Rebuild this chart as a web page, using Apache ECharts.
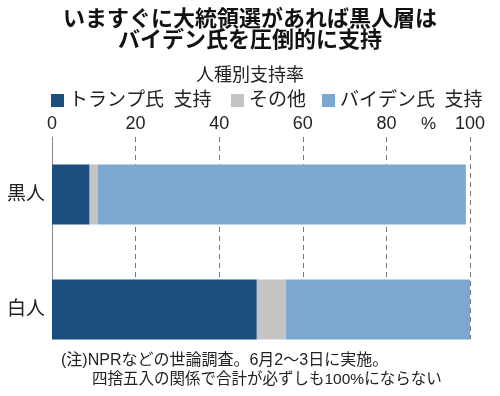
<!DOCTYPE html>
<html>
<head>
<meta charset="utf-8">
<script src="https://cdn.jsdelivr.net/npm/echarts@6/dist/echarts.min.js"></script>
<style>
    html, body { margin: 0; padding: 0; background: #fff; }
    #chart { width: 500px; height: 396px; }
</style>
</head>
<body>
<div id="chart"></div>
<script>
const categories = ['黒人', '白人'];
const seriesNames = ['トランプ氏\u2002支持', 'その他', 'バイデン氏\u2002支持'];
const trumpValues = [9, 49];
const otherValues = [2, 7];
const bidenValues = [88, 44];
const tickValues = [0, 20, 40, 60, 80, 100];

const FONT = "'Liberation Sans', 'Noto Sans CJK JP', sans-serif";
const colors = ['#1c4f7d', '#c4c4c4', '#7ca7cf'];
const legendLeft = [46, 226, 317];

const chart = echarts.init(document.getElementById('chart'));

// stacked horizontal bars live in the second (taller) grid
const barSeries = [trumpValues, otherValues, bidenValues].map((vals, i) => ({
    name: seriesNames[i],
    type: 'bar',
    stack: 'total',
    xAxisIndex: 1,
    yAxisIndex: 1,
    barWidth: 60,
    data: vals,
    itemStyle: { color: colors[i] },
    emphasis: { disabled: true }
}));

// one legend per item so each sits where the original puts it
const legends = seriesNames.map((name, i) => ({
    left: legendLeft[i],
    top: 86,
    icon: 'rect',
    itemWidth: 13,
    itemHeight: 13,
    data: [name],
    textStyle: { fontSize: 19, color: '#222', fontFamily: FONT }
}));

chart.setOption({
    animation: false,
    textStyle: { fontFamily: FONT },
    title: [
        {
            text: 'いますぐに大統領選があれば黒人層は\nバイデン氏を圧倒的に支持',
            left: 'center',
            top: 4,
            textStyle: { fontSize: 22, fontWeight: 'bold', lineHeight: 21, color: '#111', fontFamily: FONT }
        },
        {
            text: '人種別支持率',
            left: 'center',
            top: 62,
            textStyle: { fontSize: 18, fontWeight: 'normal', lineHeight: 18, color: '#222', fontFamily: FONT }
        }
    ],
    legend: legends,
    grid: [
        { left: 52, right: 30, top: 137, height: 202 },
        { left: 52, right: 30, top: 137, height: 230 }
    ],
    xAxis: [
        {
            gridIndex: 0,
            type: 'value',
            position: 'top',
            min: 0,
            max: 100,
            interval: 20,
            axisLine: { show: false },
            axisTick: { show: false },
            axisLabel: {
                margin: 4,
                fontSize: 18,
                color: '#222',
                fontFamily: FONT,
                formatter: v => tickValues.includes(v) ? String(v) : ''
            },
            splitLine: { show: true, lineStyle: { type: [5, 4], color: '#777', width: 1 } }
        },
        {
            gridIndex: 1,
            type: 'value',
            min: 0,
            max: 100,
            show: false
        }
    ],
    yAxis: [
        {
            gridIndex: 0,
            type: 'category',
            data: categories,
            axisLine: { show: true, lineStyle: { color: '#888', width: 1 } },
            axisTick: { show: false },
            axisLabel: { show: false },
            splitLine: { show: false }
        },
        {
            gridIndex: 1,
            type: 'category',
            inverse: true,
            data: categories,
            axisLine: { show: false },
            axisTick: { show: false },
            axisLabel: { margin: 7, fontSize: 19, color: '#222', fontFamily: FONT }
        }
    ],
    series: barSeries,
    graphic: [
        {
            type: 'text',
            left: 421,
            top: 116,
            style: { text: '%', fontSize: 17, fill: '#222', fontFamily: FONT }
        },
        {
            type: 'text',
            left: 61,
            top: 353,
            style: {
                text: '(注)NPRなどの世論調査。6月2～3日に実施。',
                fontSize: 16,
                fill: '#222',
                fontFamily: FONT
            }
        },
        {
            type: 'text',
            left: 92,
            top: 372,
            style: {
                text: '四捨五入の関係で合計が必ずしも100%にならない',
                fontSize: 15.5,
                fill: '#222',
                fontFamily: FONT
            }
        }
    ]
});
</script>
</body>
</html>
